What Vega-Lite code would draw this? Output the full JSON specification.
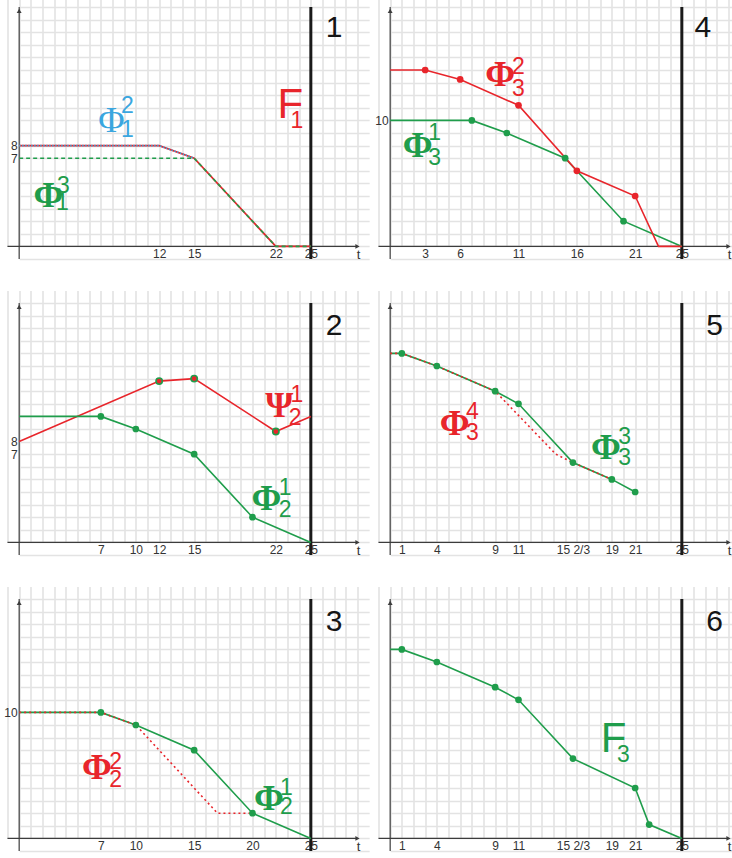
{
"$schema": "https://vega.github.io/schema/vega-lite/v6.json",
"background": "white",
"padding": {"left": 3.5, "top": 1, "right": 0, "bottom": 0},
"config": {
  "view": {"stroke": null},
  "font": "Liberation Sans",
  "axis": {"grid": true, "gridColor": "#e3e3e3", "gridWidth": 1.6, "domain": false, "ticks": false, "labelFont": "Liberation Sans", "labelFontSize": 12, "labelColor": "#333333", "labelPadding": 2, "labelOverlap": false, "labelFlush": false, "labelBound": false},
  "axisX": {"offset": -12.6},
  "axisY": {"offset": -11.667}
},
"datasets": {
  "items": [
    {"p":0,"kind":"yaxis","t":0,"v":-1},
    {"p":0,"kind":"yaxis","t":0,"v":19},
    {"p":0,"kind":"xaxis","t":-1,"v":0},
    {"p":0,"kind":"xaxis","t":29,"v":0},
    {"p":0,"kind":"deadline","t":25,"v":-1},
    {"p":0,"kind":"deadline","t":25,"v":19},
    {"p":0,"kind":"uparrow","t":0,"v":18.7},
    {"p":0,"kind":"rightarrow","t":29,"v":0},
    {"p":0,"kind":"tlabel","text":"t","t":29.1,"v":-0.67},

    {"p":1,"kind":"line","curve":"F1","t":0,"v":8},
    {"p":1,"kind":"line","curve":"F1","t":12,"v":8},
    {"p":1,"kind":"line","curve":"F1","t":15,"v":7},
    {"p":1,"kind":"line","curve":"F1","t":22,"v":0},
    {"p":1,"kind":"line","curve":"F1","t":25,"v":0},
    {"p":1,"kind":"line","curve":"Φ1²","t":0,"v":8},
    {"p":1,"kind":"line","curve":"Φ1²","t":12,"v":8},
    {"p":1,"kind":"line","curve":"Φ1²","t":15,"v":7},
    {"p":1,"kind":"line","curve":"Φ1³","t":0,"v":7},
    {"p":1,"kind":"line","curve":"Φ1³","t":15,"v":7},
    {"p":1,"kind":"line","curve":"Φ1³","t":22,"v":0},
    {"p":1,"kind":"line","curve":"Φ1³","t":25,"v":0},
    {"p":1,"kind":"label","curve":"Φ1²","part":"main","text":"Φ","t":7.9,"v":9.05},
    {"p":1,"kind":"label","curve":"Φ1²","part":"sup","text":"2","t":9.27,"v":10.56},
    {"p":1,"kind":"label","curve":"Φ1²","part":"sub","text":"1","t":9.27,"v":8.65},
    {"p":1,"kind":"label","curve":"F1","part":"letter","text":"F","t":22.15,"v":10.16},
    {"p":1,"kind":"label","curve":"F1","part":"sub","text":"1","t":23.8,"v":9.37},
    {"p":1,"kind":"label","curve":"Φ1³","part":"main","text":"Φ","t":2.5,"v":3.1},
    {"p":1,"kind":"label","curve":"Φ1³","part":"sup","text":"3","t":3.8,"v":4.2},
    {"p":1,"kind":"label","curve":"Φ1³","part":"sub","text":"1","t":3.7,"v":2.9},
    {"p":1,"kind":"num","text":"1","t":27.0,"v":16.6},

    {"p":2,"kind":"line","curve":"Ψ2¹","t":0,"v":8},
    {"p":2,"kind":"line","curve":"Ψ2¹","t":12,"v":12.8},
    {"p":2,"kind":"line","curve":"Ψ2¹","t":15,"v":13},
    {"p":2,"kind":"line","curve":"Ψ2¹","t":22,"v":8.8},
    {"p":2,"kind":"line","curve":"Ψ2¹","t":25,"v":10},
    {"p":2,"kind":"line","curve":"Φ2¹","t":0,"v":10},
    {"p":2,"kind":"line","curve":"Φ2¹","t":7,"v":10},
    {"p":2,"kind":"line","curve":"Φ2¹","t":10,"v":9},
    {"p":2,"kind":"line","curve":"Φ2¹","t":15,"v":7},
    {"p":2,"kind":"line","curve":"Φ2¹","t":20,"v":2},
    {"p":2,"kind":"line","curve":"Φ2¹","t":25,"v":0},
    {"p":2,"kind":"node","curve":"Φ2¹","t":7,"v":10},
    {"p":2,"kind":"node","curve":"Φ2¹","t":10,"v":9},
    {"p":2,"kind":"node","curve":"Φ2¹","t":15,"v":7},
    {"p":2,"kind":"node","curve":"Φ2¹","t":20,"v":2},
    {"p":2,"kind":"node","curve":"Ψ2¹","t":12,"v":12.8},
    {"p":2,"kind":"node","curve":"Ψ2¹","t":15,"v":13},
    {"p":2,"kind":"node","curve":"Ψ2¹","t":22,"v":8.8},
    {"p":2,"kind":"label","curve":"Ψ2¹","part":"main","text":"Ψ","t":22.3,"v":9.92},
    {"p":2,"kind":"label","curve":"Ψ2¹","part":"sup","text":"1","t":23.8,"v":11.13},
    {"p":2,"kind":"label","curve":"Ψ2¹","part":"sub","text":"2","t":23.65,"v":9.29},
    {"p":2,"kind":"label","curve":"Φ2¹","part":"main","text":"Φ","t":21.2,"v":2.56},
    {"p":2,"kind":"label","curve":"Φ2¹","part":"sup","text":"1","t":22.8,"v":3.74},
    {"p":2,"kind":"label","curve":"Φ2¹","part":"sub","text":"2","t":22.8,"v":2.03},
    {"p":2,"kind":"num","text":"2","t":27.0,"v":16.5},

    {"p":3,"kind":"line","curve":"Φ2¹","t":0,"v":10},
    {"p":3,"kind":"line","curve":"Φ2¹","t":7,"v":10},
    {"p":3,"kind":"line","curve":"Φ2¹","t":10,"v":9},
    {"p":3,"kind":"line","curve":"Φ2¹","t":15,"v":7},
    {"p":3,"kind":"line","curve":"Φ2¹","t":20,"v":2},
    {"p":3,"kind":"line","curve":"Φ2¹","t":25,"v":0},
    {"p":3,"kind":"line","curve":"Φ2²","t":0,"v":10},
    {"p":3,"kind":"line","curve":"Φ2²","t":7,"v":10},
    {"p":3,"kind":"line","curve":"Φ2²","t":10,"v":9},
    {"p":3,"kind":"line","curve":"Φ2²","t":17,"v":2},
    {"p":3,"kind":"line","curve":"Φ2²","t":20,"v":2},
    {"p":3,"kind":"node","curve":"Φ2¹","t":7,"v":10},
    {"p":3,"kind":"node","curve":"Φ2¹","t":10,"v":9},
    {"p":3,"kind":"node","curve":"Φ2¹","t":15,"v":7},
    {"p":3,"kind":"node","curve":"Φ2¹","t":20,"v":2},
    {"p":3,"kind":"label","curve":"Φ2²","part":"main","text":"Φ","t":6.66,"v":4.74},
    {"p":3,"kind":"label","curve":"Φ2²","part":"sup","text":"2","t":8.26,"v":5.52},
    {"p":3,"kind":"label","curve":"Φ2²","part":"sub","text":"2","t":8.26,"v":4.08},
    {"p":3,"kind":"label","curve":"Φ2¹","part":"main","text":"Φ","t":21.4,"v":2.24},
    {"p":3,"kind":"label","curve":"Φ2¹","part":"sup","text":"1","t":22.9,"v":3.43},
    {"p":3,"kind":"label","curve":"Φ2¹","part":"sub","text":"2","t":22.9,"v":1.97},
    {"p":3,"kind":"num","text":"3","t":27.0,"v":16.45},

    {"p":4,"kind":"line","curve":"Φ3¹","t":0,"v":10},
    {"p":4,"kind":"line","curve":"Φ3¹","t":7,"v":10},
    {"p":4,"kind":"line","curve":"Φ3¹","t":10,"v":9},
    {"p":4,"kind":"line","curve":"Φ3¹","t":15,"v":7},
    {"p":4,"kind":"line","curve":"Φ3¹","t":20,"v":2},
    {"p":4,"kind":"line","curve":"Φ3¹","t":25,"v":0},
    {"p":4,"kind":"line","curve":"Φ3²","t":0,"v":14},
    {"p":4,"kind":"line","curve":"Φ3²","t":3,"v":14},
    {"p":4,"kind":"line","curve":"Φ3²","t":6,"v":13.25},
    {"p":4,"kind":"line","curve":"Φ3²","t":11,"v":11.2},
    {"p":4,"kind":"line","curve":"Φ3²","t":16,"v":6},
    {"p":4,"kind":"line","curve":"Φ3²","t":21,"v":4},
    {"p":4,"kind":"line","curve":"Φ3²","t":23,"v":0},
    {"p":4,"kind":"line","curve":"Φ3²","t":25,"v":0},
    {"p":4,"kind":"node","curve":"Φ3¹","t":7,"v":10},
    {"p":4,"kind":"node","curve":"Φ3¹","t":10,"v":9},
    {"p":4,"kind":"node","curve":"Φ3¹","t":15,"v":7},
    {"p":4,"kind":"node","curve":"Φ3¹","t":20,"v":2},
    {"p":4,"kind":"node","curve":"Φ3²","t":3,"v":14},
    {"p":4,"kind":"node","curve":"Φ3²","t":6,"v":13.25},
    {"p":4,"kind":"node","curve":"Φ3²","t":11,"v":11.2},
    {"p":4,"kind":"node","curve":"Φ3²","t":16,"v":6},
    {"p":4,"kind":"node","curve":"Φ3²","t":21,"v":4},
    {"p":4,"kind":"label","curve":"Φ3²","part":"main","text":"Φ","t":9.43,"v":12.7},
    {"p":4,"kind":"label","curve":"Φ3²","part":"sup","text":"2","t":11.0,"v":13.65},
    {"p":4,"kind":"label","curve":"Φ3²","part":"sub","text":"3","t":11.0,"v":11.9},
    {"p":4,"kind":"label","curve":"Φ3¹","part":"main","text":"Φ","t":2.35,"v":7.13},
    {"p":4,"kind":"label","curve":"Φ3¹","part":"sup","text":"1","t":3.82,"v":8.46},
    {"p":4,"kind":"label","curve":"Φ3¹","part":"sub","text":"3","t":3.82,"v":6.46},
    {"p":4,"kind":"num","text":"4","t":26.8,"v":16.6},

    {"p":5,"kind":"line","curve":"Φ3³","t":0,"v":15},
    {"p":5,"kind":"line","curve":"Φ3³","t":1,"v":15},
    {"p":5,"kind":"line","curve":"Φ3³","t":4,"v":14},
    {"p":5,"kind":"line","curve":"Φ3³","t":9,"v":12},
    {"p":5,"kind":"line","curve":"Φ3³","t":11,"v":11},
    {"p":5,"kind":"line","curve":"Φ3³","t":15.6667,"v":6.333},
    {"p":5,"kind":"line","curve":"Φ3³","t":19,"v":5},
    {"p":5,"kind":"line","curve":"Φ3³","t":21,"v":4},
    {"p":5,"kind":"line","curve":"Φ3⁴","t":0,"v":15},
    {"p":5,"kind":"line","curve":"Φ3⁴","t":1,"v":15},
    {"p":5,"kind":"line","curve":"Φ3⁴","t":4,"v":14},
    {"p":5,"kind":"line","curve":"Φ3⁴","t":9,"v":12},
    {"p":5,"kind":"line","curve":"Φ3⁴","t":14.2,"v":7},
    {"p":5,"kind":"line","curve":"Φ3⁴","t":15.6667,"v":6.333},
    {"p":5,"kind":"line","curve":"Φ3⁴","t":19,"v":5},
    {"p":5,"kind":"node","curve":"Φ3³","t":1,"v":15},
    {"p":5,"kind":"node","curve":"Φ3³","t":4,"v":14},
    {"p":5,"kind":"node","curve":"Φ3³","t":9,"v":12},
    {"p":5,"kind":"node","curve":"Φ3³","t":11,"v":11},
    {"p":5,"kind":"node","curve":"Φ3³","t":15.6667,"v":6.333},
    {"p":5,"kind":"node","curve":"Φ3³","t":19,"v":5},
    {"p":5,"kind":"node","curve":"Φ3³","t":21,"v":4},
    {"p":5,"kind":"label","curve":"Φ3⁴","part":"main","text":"Φ","t":5.53,"v":8.5},
    {"p":5,"kind":"label","curve":"Φ3⁴","part":"sup","text":"4","t":7.04,"v":9.82},
    {"p":5,"kind":"label","curve":"Φ3⁴","part":"sub","text":"3","t":7.04,"v":8.1},
    {"p":5,"kind":"label","curve":"Φ3³","part":"main","text":"Φ","t":18.5,"v":6.65},
    {"p":5,"kind":"label","curve":"Φ3³","part":"sup","text":"3","t":20.1,"v":7.84},
    {"p":5,"kind":"label","curve":"Φ3³","part":"sub","text":"3","t":20.1,"v":6.12},
    {"p":5,"kind":"num","text":"5","t":27.8,"v":16.5},

    {"p":6,"kind":"line","curve":"F3","t":0,"v":15},
    {"p":6,"kind":"line","curve":"F3","t":1,"v":15},
    {"p":6,"kind":"line","curve":"F3","t":4,"v":14},
    {"p":6,"kind":"line","curve":"F3","t":9,"v":12},
    {"p":6,"kind":"line","curve":"F3","t":11,"v":11},
    {"p":6,"kind":"line","curve":"F3","t":15.6667,"v":6.333},
    {"p":6,"kind":"line","curve":"F3","t":21,"v":4},
    {"p":6,"kind":"line","curve":"F3","t":22.2,"v":1.1},
    {"p":6,"kind":"line","curve":"F3","t":25,"v":0},
    {"p":6,"kind":"node","curve":"F3","t":1,"v":15},
    {"p":6,"kind":"node","curve":"F3","t":4,"v":14},
    {"p":6,"kind":"node","curve":"F3","t":9,"v":12},
    {"p":6,"kind":"node","curve":"F3","t":11,"v":11},
    {"p":6,"kind":"node","curve":"F3","t":15.6667,"v":6.333},
    {"p":6,"kind":"node","curve":"F3","t":21,"v":4},
    {"p":6,"kind":"node","curve":"F3","t":22.2,"v":1.1},
    {"p":6,"kind":"label","curve":"F3","part":"letter","text":"F","t":18.05,"v":6.88},
    {"p":6,"kind":"label","curve":"F3","part":"sub","text":"3","t":20.0,"v":6.09},
    {"p":6,"kind":"num","text":"6","t":27.8,"v":16.5}
  ]
},
"columns": 2,
"spacing": {"row": 44, "column": 21},
"bounds": "flush",
"concat": [
  {
   "width": 350, "height": 252,
   "data": {"name": "items"},
   "encoding": {
     "x": {"field": "t", "type": "quantitative", "scale": {"domain": [-1, 29], "nice": false, "zero": false}, "axis": {"title": null, "tickCount": 30, "labelExpr": "indexof([12,15,22,25], datum.value) >= 0 ? '' + datum.value : ''"}},
     "y": {"field": "v", "type": "quantitative", "scale": {"domain": [-1, 19], "nice": false, "zero": false}, "axis": {"title": null, "tickCount": 20, "labelExpr": "indexof([7,8], datum.value) >= 0 ? '' + datum.value : ''"}},
     "color": {"field": "curve", "type": "nominal", "legend": null, "scale": {"domain": ["F1","Φ1²","Φ1³","Ψ2¹","Φ2¹","Φ2²","Φ3¹","Φ3²","Φ3³","Φ3⁴","F3"], "range": ["#e8252b","#3aa6df","#1f9d4b","#e8252b","#1f9d4b","#e8252b","#1f9d4b","#e8252b","#1f9d4b","#e8252b","#1f9d4b"]}}
   },
   "layer": [
     {"transform": [{"filter": "datum.kind === 'yaxis'"}], "mark": {"type": "line", "strokeWidth": 1.2}, "encoding": {"color": {"value": "#3c3c3c"}}},
     {"transform": [{"filter": "datum.kind === 'xaxis'"}], "mark": {"type": "line", "strokeWidth": 1.2}, "encoding": {"color": {"value": "#3c3c3c"}}},
     {"transform": [{"filter": "datum.kind === 'uparrow'"}], "mark": {"type": "point", "shape": "triangle-up", "filled": true, "size": 24, "opacity": 1}, "encoding": {"color": {"value": "#3c3c3c"}}},
     {"transform": [{"filter": "datum.kind === 'rightarrow'"}], "mark": {"type": "point", "shape": "triangle-right", "filled": true, "size": 24, "opacity": 1}, "encoding": {"color": {"value": "#3c3c3c"}}},
     {"transform": [{"filter": "datum.kind === 'tlabel'"}], "mark": {"type": "text", "fontSize": 13, "baseline": "middle"}, "encoding": {"text": {"field": "text"}, "color": {"value": "#333333"}}},
     {"transform": [{"filter": "datum.kind === 'deadline'"}], "mark": {"type": "line", "strokeWidth": 3}, "encoding": {"color": {"value": "#1a1a1a"}}},
     {"transform": [{"filter": "datum.p === 1 && datum.kind === 'line' && datum.curve === 'F1'"}], "mark": {"type": "line", "strokeWidth": 1.8}},
     {"transform": [{"filter": "datum.p === 1 && datum.kind === 'line' && datum.curve === 'Φ1³'"}], "mark": {"type": "line", "strokeWidth": 1.6, "strokeDash": [4, 3]}},
     {"transform": [{"filter": "datum.p === 1 && datum.kind === 'line' && datum.curve === 'Φ1²'"}], "mark": {"type": "line", "strokeWidth": 1.6, "strokeDash": [1.5, 1.5]}},
     {"transform": [{"filter": "datum.p === 1 && datum.kind === 'label' && datum.part === 'main' && datum.curve !== 'Φ1²'"}], "mark": {"type": "text", "font": "Liberation Serif", "fontWeight": "bold", "fontSize": 36, "baseline": "alphabetic"}, "encoding": {"text": {"field": "text"}}},
     {"transform": [{"filter": "datum.p === 1 && datum.kind === 'label' && datum.part === 'main' && datum.curve === 'Φ1²'"}], "mark": {"type": "text", "font": "Liberation Serif", "fontSize": 36, "baseline": "alphabetic"}, "encoding": {"text": {"field": "text"}}},
     {"transform": [{"filter": "datum.p === 1 && datum.kind === 'label' && datum.part === 'letter'"}], "mark": {"type": "text", "fontSize": 42, "align": "left", "baseline": "alphabetic"}, "encoding": {"text": {"field": "text"}}},
     {"transform": [{"filter": "datum.p === 1 && datum.kind === 'label' && (datum.part === 'sup' || datum.part === 'sub')"}], "mark": {"type": "text", "fontSize": 23, "baseline": "alphabetic"}, "encoding": {"text": {"field": "text"}}},
     {"transform": [{"filter": "datum.p === 1 && datum.kind === 'num'"}], "mark": {"type": "text", "fontSize": 30, "baseline": "alphabetic"}, "encoding": {"text": {"field": "text"}, "color": {"value": "#151515"}}}
   ]
  },
  {
   "width": 350, "height": 252,
   "data": {"name": "items"},
   "encoding": {
     "x": {"field": "t", "type": "quantitative", "scale": {"domain": [-1, 29], "nice": false, "zero": false}, "axis": {"title": null, "tickCount": 30, "labelExpr": "indexof([3,6,11,16,21,25], datum.value) >= 0 ? '' + datum.value : ''"}},
     "y": {"field": "v", "type": "quantitative", "scale": {"domain": [-1, 19], "nice": false, "zero": false}, "axis": {"title": null, "tickCount": 20, "labelExpr": "datum.value === 10 ? '10' : ''"}},
     "color": {"field": "curve", "type": "nominal", "legend": null, "scale": {"domain": ["F1","Φ1²","Φ1³","Ψ2¹","Φ2¹","Φ2²","Φ3¹","Φ3²","Φ3³","Φ3⁴","F3"], "range": ["#e8252b","#3aa6df","#1f9d4b","#e8252b","#1f9d4b","#e8252b","#1f9d4b","#e8252b","#1f9d4b","#e8252b","#1f9d4b"]}}
   },
   "layer": [
     {"transform": [{"filter": "datum.kind === 'yaxis'"}], "mark": {"type": "line", "strokeWidth": 1.2}, "encoding": {"color": {"value": "#3c3c3c"}}},
     {"transform": [{"filter": "datum.kind === 'xaxis'"}], "mark": {"type": "line", "strokeWidth": 1.2}, "encoding": {"color": {"value": "#3c3c3c"}}},
     {"transform": [{"filter": "datum.kind === 'uparrow'"}], "mark": {"type": "point", "shape": "triangle-up", "filled": true, "size": 24, "opacity": 1}, "encoding": {"color": {"value": "#3c3c3c"}}},
     {"transform": [{"filter": "datum.kind === 'rightarrow'"}], "mark": {"type": "point", "shape": "triangle-right", "filled": true, "size": 24, "opacity": 1}, "encoding": {"color": {"value": "#3c3c3c"}}},
     {"transform": [{"filter": "datum.kind === 'tlabel'"}], "mark": {"type": "text", "fontSize": 13, "baseline": "middle"}, "encoding": {"text": {"field": "text"}, "color": {"value": "#333333"}}},
     {"transform": [{"filter": "datum.kind === 'deadline'"}], "mark": {"type": "line", "strokeWidth": 3}, "encoding": {"color": {"value": "#1a1a1a"}}},
     {"transform": [{"filter": "datum.p === 4 && datum.kind === 'line' && datum.curve === 'Φ3¹'"}], "mark": {"type": "line", "strokeWidth": 1.6}},
     {"transform": [{"filter": "datum.p === 4 && datum.kind === 'line' && datum.curve === 'Φ3²'"}], "mark": {"type": "line", "strokeWidth": 1.6}},
     {"transform": [{"filter": "datum.p === 4 && datum.kind === 'node' && datum.curve === 'Φ3¹'"}], "mark": {"type": "point", "filled": true, "size": 45, "opacity": 1}},
     {"transform": [{"filter": "datum.p === 4 && datum.kind === 'node' && datum.curve === 'Φ3²'"}], "mark": {"type": "point", "filled": true, "size": 45, "opacity": 1}},
     {"transform": [{"filter": "datum.p === 4 && datum.kind === 'label' && datum.part === 'main'"}], "mark": {"type": "text", "font": "Liberation Serif", "fontWeight": "bold", "fontSize": 36, "baseline": "alphabetic"}, "encoding": {"text": {"field": "text"}}},
     {"transform": [{"filter": "datum.p === 4 && datum.kind === 'label' && (datum.part === 'sup' || datum.part === 'sub')"}], "mark": {"type": "text", "fontSize": 23, "baseline": "alphabetic"}, "encoding": {"text": {"field": "text"}}},
     {"transform": [{"filter": "datum.p === 4 && datum.kind === 'num'"}], "mark": {"type": "text", "fontSize": 30, "baseline": "alphabetic"}, "encoding": {"text": {"field": "text"}, "color": {"value": "#151515"}}}
   ]
  },
  {
   "width": 350, "height": 252,
   "data": {"name": "items"},
   "encoding": {
     "x": {"field": "t", "type": "quantitative", "scale": {"domain": [-1, 29], "nice": false, "zero": false}, "axis": {"title": null, "tickCount": 30, "labelExpr": "indexof([7,10,12,15,22,25], datum.value) >= 0 ? '' + datum.value : ''"}},
     "y": {"field": "v", "type": "quantitative", "scale": {"domain": [-1, 19], "nice": false, "zero": false}, "axis": {"title": null, "tickCount": 20, "labelExpr": "indexof([7,8], datum.value) >= 0 ? '' + datum.value : ''"}},
     "color": {"field": "curve", "type": "nominal", "legend": null, "scale": {"domain": ["F1","Φ1²","Φ1³","Ψ2¹","Φ2¹","Φ2²","Φ3¹","Φ3²","Φ3³","Φ3⁴","F3"], "range": ["#e8252b","#3aa6df","#1f9d4b","#e8252b","#1f9d4b","#e8252b","#1f9d4b","#e8252b","#1f9d4b","#e8252b","#1f9d4b"]}}
   },
   "layer": [
     {"transform": [{"filter": "datum.kind === 'yaxis'"}], "mark": {"type": "line", "strokeWidth": 1.2}, "encoding": {"color": {"value": "#3c3c3c"}}},
     {"transform": [{"filter": "datum.kind === 'xaxis'"}], "mark": {"type": "line", "strokeWidth": 1.2}, "encoding": {"color": {"value": "#3c3c3c"}}},
     {"transform": [{"filter": "datum.kind === 'uparrow'"}], "mark": {"type": "point", "shape": "triangle-up", "filled": true, "size": 24, "opacity": 1}, "encoding": {"color": {"value": "#3c3c3c"}}},
     {"transform": [{"filter": "datum.kind === 'rightarrow'"}], "mark": {"type": "point", "shape": "triangle-right", "filled": true, "size": 24, "opacity": 1}, "encoding": {"color": {"value": "#3c3c3c"}}},
     {"transform": [{"filter": "datum.kind === 'tlabel'"}], "mark": {"type": "text", "fontSize": 13, "baseline": "middle"}, "encoding": {"text": {"field": "text"}, "color": {"value": "#333333"}}},
     {"transform": [{"filter": "datum.kind === 'deadline'"}], "mark": {"type": "line", "strokeWidth": 3}, "encoding": {"color": {"value": "#1a1a1a"}}},
     {"transform": [{"filter": "datum.p === 2 && datum.kind === 'line'"}], "mark": {"type": "line", "strokeWidth": 1.6}},
     {"transform": [{"filter": "datum.p === 2 && datum.kind === 'node' && datum.curve === 'Φ2¹'"}], "mark": {"type": "point", "filled": true, "size": 45, "opacity": 1}},
     {"transform": [{"filter": "datum.p === 2 && datum.kind === 'node' && datum.curve === 'Ψ2¹'"}], "mark": {"type": "point", "filled": true, "size": 40, "opacity": 1, "stroke": "#1f9d4b", "strokeWidth": 1.6}},
     {"transform": [{"filter": "datum.p === 2 && datum.kind === 'label' && datum.part === 'main'"}], "mark": {"type": "text", "font": "Liberation Serif", "fontWeight": "bold", "fontSize": 36, "baseline": "alphabetic"}, "encoding": {"text": {"field": "text"}}},
     {"transform": [{"filter": "datum.p === 2 && datum.kind === 'label' && (datum.part === 'sup' || datum.part === 'sub')"}], "mark": {"type": "text", "fontSize": 23, "baseline": "alphabetic"}, "encoding": {"text": {"field": "text"}}},
     {"transform": [{"filter": "datum.p === 2 && datum.kind === 'num'"}], "mark": {"type": "text", "fontSize": 30, "baseline": "alphabetic"}, "encoding": {"text": {"field": "text"}, "color": {"value": "#151515"}}}
   ]
  },
  {
   "width": 350, "height": 252,
   "data": {"name": "items"},
   "encoding": {
     "x": {"field": "t", "type": "quantitative", "scale": {"domain": [-1, 29], "nice": false, "zero": false}, "axis": {"title": null, "values": [-1,0,1,2,3,4,5,6,7,8,9,10,11,12,13,14,15,15.6667,16,17,18,19,20,21,22,23,24,25,26,27,28,29], "labelExpr": "abs(datum.value - 15.6667) < 0.01 ? '15 2/3' : (indexof([1,4,9,11,19,21,25], datum.value) >= 0 ? '' + datum.value : '')", "gridOpacity": {"condition": {"test": "abs(datum.value - 15.6667) < 0.01", "value": 0}, "value": 1}}},
     "y": {"field": "v", "type": "quantitative", "scale": {"domain": [-1, 19], "nice": false, "zero": false}, "axis": {"title": null, "tickCount": 20, "labels": false}},
     "color": {"field": "curve", "type": "nominal", "legend": null, "scale": {"domain": ["F1","Φ1²","Φ1³","Ψ2¹","Φ2¹","Φ2²","Φ3¹","Φ3²","Φ3³","Φ3⁴","F3"], "range": ["#e8252b","#3aa6df","#1f9d4b","#e8252b","#1f9d4b","#e8252b","#1f9d4b","#e8252b","#1f9d4b","#e8252b","#1f9d4b"]}}
   },
   "layer": [
     {"transform": [{"filter": "datum.kind === 'yaxis'"}], "mark": {"type": "line", "strokeWidth": 1.2}, "encoding": {"color": {"value": "#3c3c3c"}}},
     {"transform": [{"filter": "datum.kind === 'xaxis'"}], "mark": {"type": "line", "strokeWidth": 1.2}, "encoding": {"color": {"value": "#3c3c3c"}}},
     {"transform": [{"filter": "datum.kind === 'uparrow'"}], "mark": {"type": "point", "shape": "triangle-up", "filled": true, "size": 24, "opacity": 1}, "encoding": {"color": {"value": "#3c3c3c"}}},
     {"transform": [{"filter": "datum.kind === 'rightarrow'"}], "mark": {"type": "point", "shape": "triangle-right", "filled": true, "size": 24, "opacity": 1}, "encoding": {"color": {"value": "#3c3c3c"}}},
     {"transform": [{"filter": "datum.kind === 'tlabel'"}], "mark": {"type": "text", "fontSize": 13, "baseline": "middle"}, "encoding": {"text": {"field": "text"}, "color": {"value": "#333333"}}},
     {"transform": [{"filter": "datum.kind === 'deadline'"}], "mark": {"type": "line", "strokeWidth": 3}, "encoding": {"color": {"value": "#1a1a1a"}}},
     {"transform": [{"filter": "datum.p === 5 && datum.kind === 'line' && datum.curve === 'Φ3³'"}], "mark": {"type": "line", "strokeWidth": 1.6}},
     {"transform": [{"filter": "datum.p === 5 && datum.kind === 'line' && datum.curve === 'Φ3⁴'"}], "mark": {"type": "line", "strokeWidth": 1.6, "strokeDash": [2, 3]}},
     {"transform": [{"filter": "datum.p === 5 && datum.kind === 'node'"}], "mark": {"type": "point", "filled": true, "size": 45, "opacity": 1}},
     {"transform": [{"filter": "datum.p === 5 && datum.kind === 'label' && datum.part === 'main'"}], "mark": {"type": "text", "font": "Liberation Serif", "fontWeight": "bold", "fontSize": 36, "baseline": "alphabetic"}, "encoding": {"text": {"field": "text"}}},
     {"transform": [{"filter": "datum.p === 5 && datum.kind === 'label' && (datum.part === 'sup' || datum.part === 'sub')"}], "mark": {"type": "text", "fontSize": 23, "baseline": "alphabetic"}, "encoding": {"text": {"field": "text"}}},
     {"transform": [{"filter": "datum.p === 5 && datum.kind === 'num'"}], "mark": {"type": "text", "fontSize": 30, "baseline": "alphabetic"}, "encoding": {"text": {"field": "text"}, "color": {"value": "#151515"}}}
   ]
  },
  {
   "width": 350, "height": 252,
   "data": {"name": "items"},
   "encoding": {
     "x": {"field": "t", "type": "quantitative", "scale": {"domain": [-1, 29], "nice": false, "zero": false}, "axis": {"title": null, "tickCount": 30, "labelExpr": "indexof([7,10,15,20,25], datum.value) >= 0 ? '' + datum.value : ''"}},
     "y": {"field": "v", "type": "quantitative", "scale": {"domain": [-1, 19], "nice": false, "zero": false}, "axis": {"title": null, "tickCount": 20, "labelExpr": "datum.value === 10 ? '10' : ''"}},
     "color": {"field": "curve", "type": "nominal", "legend": null, "scale": {"domain": ["F1","Φ1²","Φ1³","Ψ2¹","Φ2¹","Φ2²","Φ3¹","Φ3²","Φ3³","Φ3⁴","F3"], "range": ["#e8252b","#3aa6df","#1f9d4b","#e8252b","#1f9d4b","#e8252b","#1f9d4b","#e8252b","#1f9d4b","#e8252b","#1f9d4b"]}}
   },
   "layer": [
     {"transform": [{"filter": "datum.kind === 'yaxis'"}], "mark": {"type": "line", "strokeWidth": 1.2}, "encoding": {"color": {"value": "#3c3c3c"}}},
     {"transform": [{"filter": "datum.kind === 'xaxis'"}], "mark": {"type": "line", "strokeWidth": 1.2}, "encoding": {"color": {"value": "#3c3c3c"}}},
     {"transform": [{"filter": "datum.kind === 'uparrow'"}], "mark": {"type": "point", "shape": "triangle-up", "filled": true, "size": 24, "opacity": 1}, "encoding": {"color": {"value": "#3c3c3c"}}},
     {"transform": [{"filter": "datum.kind === 'rightarrow'"}], "mark": {"type": "point", "shape": "triangle-right", "filled": true, "size": 24, "opacity": 1}, "encoding": {"color": {"value": "#3c3c3c"}}},
     {"transform": [{"filter": "datum.kind === 'tlabel'"}], "mark": {"type": "text", "fontSize": 13, "baseline": "middle"}, "encoding": {"text": {"field": "text"}, "color": {"value": "#333333"}}},
     {"transform": [{"filter": "datum.kind === 'deadline'"}], "mark": {"type": "line", "strokeWidth": 3}, "encoding": {"color": {"value": "#1a1a1a"}}},
     {"transform": [{"filter": "datum.p === 3 && datum.kind === 'line' && datum.curve === 'Φ2¹'"}], "mark": {"type": "line", "strokeWidth": 1.6}},
     {"transform": [{"filter": "datum.p === 3 && datum.kind === 'line' && datum.curve === 'Φ2²'"}], "mark": {"type": "line", "strokeWidth": 1.6, "strokeDash": [2, 3]}},
     {"transform": [{"filter": "datum.p === 3 && datum.kind === 'node'"}], "mark": {"type": "point", "filled": true, "size": 45, "opacity": 1}},
     {"transform": [{"filter": "datum.p === 3 && datum.kind === 'label' && datum.part === 'main'"}], "mark": {"type": "text", "font": "Liberation Serif", "fontWeight": "bold", "fontSize": 36, "baseline": "alphabetic"}, "encoding": {"text": {"field": "text"}}},
     {"transform": [{"filter": "datum.p === 3 && datum.kind === 'label' && (datum.part === 'sup' || datum.part === 'sub')"}], "mark": {"type": "text", "fontSize": 23, "baseline": "alphabetic"}, "encoding": {"text": {"field": "text"}}},
     {"transform": [{"filter": "datum.p === 3 && datum.kind === 'num'"}], "mark": {"type": "text", "fontSize": 30, "baseline": "alphabetic"}, "encoding": {"text": {"field": "text"}, "color": {"value": "#151515"}}}
   ]
  },
  {
   "width": 350, "height": 252,
   "data": {"name": "items"},
   "encoding": {
     "x": {"field": "t", "type": "quantitative", "scale": {"domain": [-1, 29], "nice": false, "zero": false}, "axis": {"title": null, "values": [-1,0,1,2,3,4,5,6,7,8,9,10,11,12,13,14,15,15.6667,16,17,18,19,20,21,22,23,24,25,26,27,28,29], "labelExpr": "abs(datum.value - 15.6667) < 0.01 ? '15 2/3' : (indexof([1,4,9,11,19,21,25], datum.value) >= 0 ? '' + datum.value : '')", "gridOpacity": {"condition": {"test": "abs(datum.value - 15.6667) < 0.01", "value": 0}, "value": 1}}},
     "y": {"field": "v", "type": "quantitative", "scale": {"domain": [-1, 19], "nice": false, "zero": false}, "axis": {"title": null, "tickCount": 20, "labels": false}},
     "color": {"field": "curve", "type": "nominal", "legend": null, "scale": {"domain": ["F1","Φ1²","Φ1³","Ψ2¹","Φ2¹","Φ2²","Φ3¹","Φ3²","Φ3³","Φ3⁴","F3"], "range": ["#e8252b","#3aa6df","#1f9d4b","#e8252b","#1f9d4b","#e8252b","#1f9d4b","#e8252b","#1f9d4b","#e8252b","#1f9d4b"]}}
   },
   "layer": [
     {"transform": [{"filter": "datum.kind === 'yaxis'"}], "mark": {"type": "line", "strokeWidth": 1.2}, "encoding": {"color": {"value": "#3c3c3c"}}},
     {"transform": [{"filter": "datum.kind === 'xaxis'"}], "mark": {"type": "line", "strokeWidth": 1.2}, "encoding": {"color": {"value": "#3c3c3c"}}},
     {"transform": [{"filter": "datum.kind === 'uparrow'"}], "mark": {"type": "point", "shape": "triangle-up", "filled": true, "size": 24, "opacity": 1}, "encoding": {"color": {"value": "#3c3c3c"}}},
     {"transform": [{"filter": "datum.kind === 'rightarrow'"}], "mark": {"type": "point", "shape": "triangle-right", "filled": true, "size": 24, "opacity": 1}, "encoding": {"color": {"value": "#3c3c3c"}}},
     {"transform": [{"filter": "datum.kind === 'tlabel'"}], "mark": {"type": "text", "fontSize": 13, "baseline": "middle"}, "encoding": {"text": {"field": "text"}, "color": {"value": "#333333"}}},
     {"transform": [{"filter": "datum.kind === 'deadline'"}], "mark": {"type": "line", "strokeWidth": 3}, "encoding": {"color": {"value": "#1a1a1a"}}},
     {"transform": [{"filter": "datum.p === 6 && datum.kind === 'line'"}], "mark": {"type": "line", "strokeWidth": 1.6}},
     {"transform": [{"filter": "datum.p === 6 && datum.kind === 'node'"}], "mark": {"type": "point", "filled": true, "size": 45, "opacity": 1}},
     {"transform": [{"filter": "datum.p === 6 && datum.kind === 'label' && datum.part === 'letter'"}], "mark": {"type": "text", "fontSize": 42, "align": "left", "baseline": "alphabetic"}, "encoding": {"text": {"field": "text"}}},
     {"transform": [{"filter": "datum.p === 6 && datum.kind === 'label' && (datum.part === 'sup' || datum.part === 'sub')"}], "mark": {"type": "text", "fontSize": 23, "baseline": "alphabetic"}, "encoding": {"text": {"field": "text"}}},
     {"transform": [{"filter": "datum.p === 6 && datum.kind === 'num'"}], "mark": {"type": "text", "fontSize": 30, "baseline": "alphabetic"}, "encoding": {"text": {"field": "text"}, "color": {"value": "#151515"}}}
   ]
  }
]
}
